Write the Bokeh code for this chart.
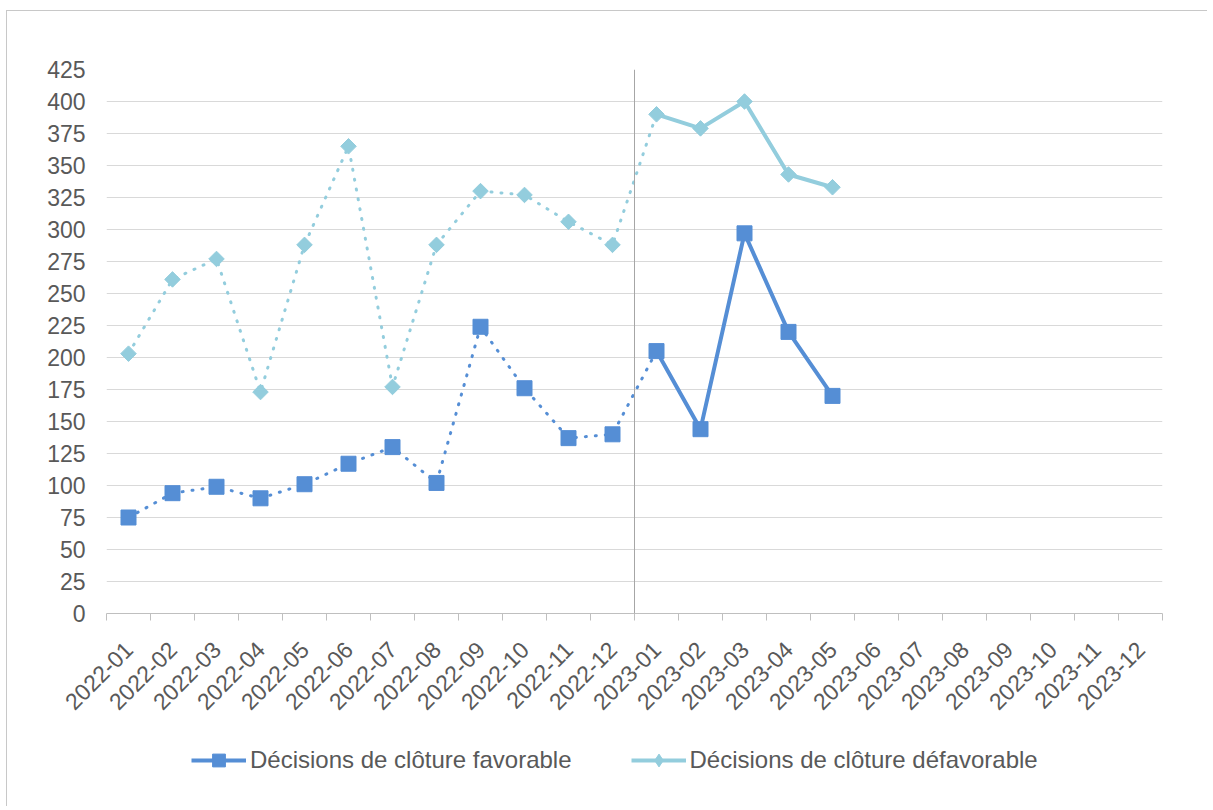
import numpy as np
from bokeh.plotting import figure
from bokeh.layouts import column
from bokeh.models import FixedTicker, Span, Legend, LegendItem, Range1d
from bokeh.embed import file_html
from bokeh.resources import INLINE

months = ["2022-01", "2022-02", "2022-03", "2022-04", "2022-05", "2022-06",
          "2022-07", "2022-08", "2022-09", "2022-10", "2022-11", "2022-12",
          "2023-01", "2023-02", "2023-03", "2023-04", "2023-05", "2023-06",
          "2023-07", "2023-08", "2023-09", "2023-10", "2023-11", "2023-12"]
favorable = [75, 94, 99, 90, 101, 117, 130, 102, 224, 176, 137, 140,
             205, 144, 297, 220, 170]
defavorable = [203, 261, 277, 173, 288, 365, 177, 288, 330, 327, 306, 288,
               390, 379, 400, 343, 333]
y_ticks = list(range(0, 426, 25))
label_fav = "Décisions de clôture favorable"
label_def = "Décisions de clôture défavorable"
split_index = 12  # first month of 2023

FONT = "Liberation Sans"
TXT = "#595959"
C_FAV = "#558ED5"
C_DEF = "#93CDDD"
FS = "23px"

n_cat = len(months)
xc = np.arange(n_cat) + 0.5
xf = xc[:len(favorable)]
xd = xc[:len(defavorable)]

p = figure(width=1200, height=712, x_range=Range1d(0, n_cat), y_range=Range1d(0, 425),
           output_backend="svg", toolbar_location=None,
           min_border_left=99, min_border_right=45, min_border_top=58, min_border_bottom=110)
p.outline_line_color = None

# axes
p.xaxis.ticker = FixedTicker(ticks=list(xc), minor_ticks=list(range(n_cat + 1)))
p.xaxis.major_label_overrides = {float(v): m for v, m in zip(xc, months)}
p.xaxis.major_tick_line_color = None
p.xaxis.minor_tick_line_color = "#BFBFBF"
p.xaxis.minor_tick_in = 0
p.xaxis.minor_tick_out = 7
p.xaxis.axis_line_color = "#BFBFBF"
p.xaxis.major_label_orientation = np.pi / 4
p.xaxis.major_label_standoff = 25
p.xaxis.major_label_text_font = FONT
p.xaxis.major_label_text_font_size = FS
p.xaxis.major_label_text_color = TXT

p.yaxis.ticker = FixedTicker(ticks=y_ticks)
p.yaxis.axis_line_color = None
p.yaxis.major_tick_line_color = None
p.yaxis.major_tick_out = 0
p.yaxis.minor_tick_line_color = None
p.yaxis.minor_tick_out = 0
p.yaxis.major_label_standoff = 21
p.yaxis.major_label_text_font = FONT
p.yaxis.major_label_text_font_size = FS
p.yaxis.major_label_text_color = TXT

p.xgrid.grid_line_color = None
p.ygrid.ticker = FixedTicker(ticks=y_ticks)
p.ygrid.grid_line_color = "#D9D9D9"
p.ygrid.grid_line_width = 1

p.add_layout(Span(location=split_index, dimension="height", line_color="#A6A6A6", line_width=1))

# favorable series
p.line(xf[:split_index + 1], favorable[:split_index + 1], line_color=C_FAV, line_width=3,
       line_dash="1 9", line_cap="round")
p.line(xf[split_index:], favorable[split_index:], line_color=C_FAV, line_width=4,
       line_join="round")
p.scatter(xf, favorable, marker="square", size=15, fill_color=C_FAV, line_color=C_FAV)

# defavorable series
p.line(xd[:split_index + 1], defavorable[:split_index + 1], line_color=C_DEF, line_width=3,
       line_dash="1 9", line_cap="round")
p.line(xd[split_index:], defavorable[split_index:], line_color=C_DEF, line_width=4,
       line_join="round")
p.scatter(xd, defavorable, marker="square", angle=np.pi / 4, size=11,
          fill_color=C_DEF, line_color=C_DEF)

# legend strip (separate figure below the chart, same styles as the series)
pl = figure(width=1200, height=83, x_range=Range1d(0, 1), y_range=Range1d(0, 1),
            output_backend="svg", toolbar_location=None,
            min_border_left=0, min_border_right=0, min_border_top=0, min_border_bottom=0)
pl.axis.visible = False
pl.grid.visible = False
pl.outline_line_color = None
nan = [float("nan")]
lf = pl.line(nan, nan, line_color=C_FAV, line_width=4)
mf = pl.scatter(nan, nan, marker="square", fill_color=C_FAV, line_color=C_FAV)
ld = pl.line(nan, nan, line_color=C_DEF, line_width=4)
md = pl.scatter(nan, nan, marker="diamond", fill_color=C_DEF, line_color=C_DEF)
legend = Legend(items=[LegendItem(label=label_fav, renderers=[lf, mf]),
                       LegendItem(label=label_def, renderers=[ld, md])],
                orientation="horizontal", location=(85, 30),
                glyph_width=55, glyph_height=32, label_standoff=4, spacing=59,
                padding=0, margin=0, border_line_color=None, background_fill_alpha=0,
                label_text_font=FONT, label_text_font_size="24px", label_text_color=TXT)
pl.add_layout(legend)

layout = column(p, pl, spacing=0,
                styles={"margin-left": "6px", "margin-top": "10px",
                        "border-left": "1px solid #C8C8C8", "border-top": "1px solid #C8C8C8"})

open("out.html", "w").write(file_html(layout, INLINE))
